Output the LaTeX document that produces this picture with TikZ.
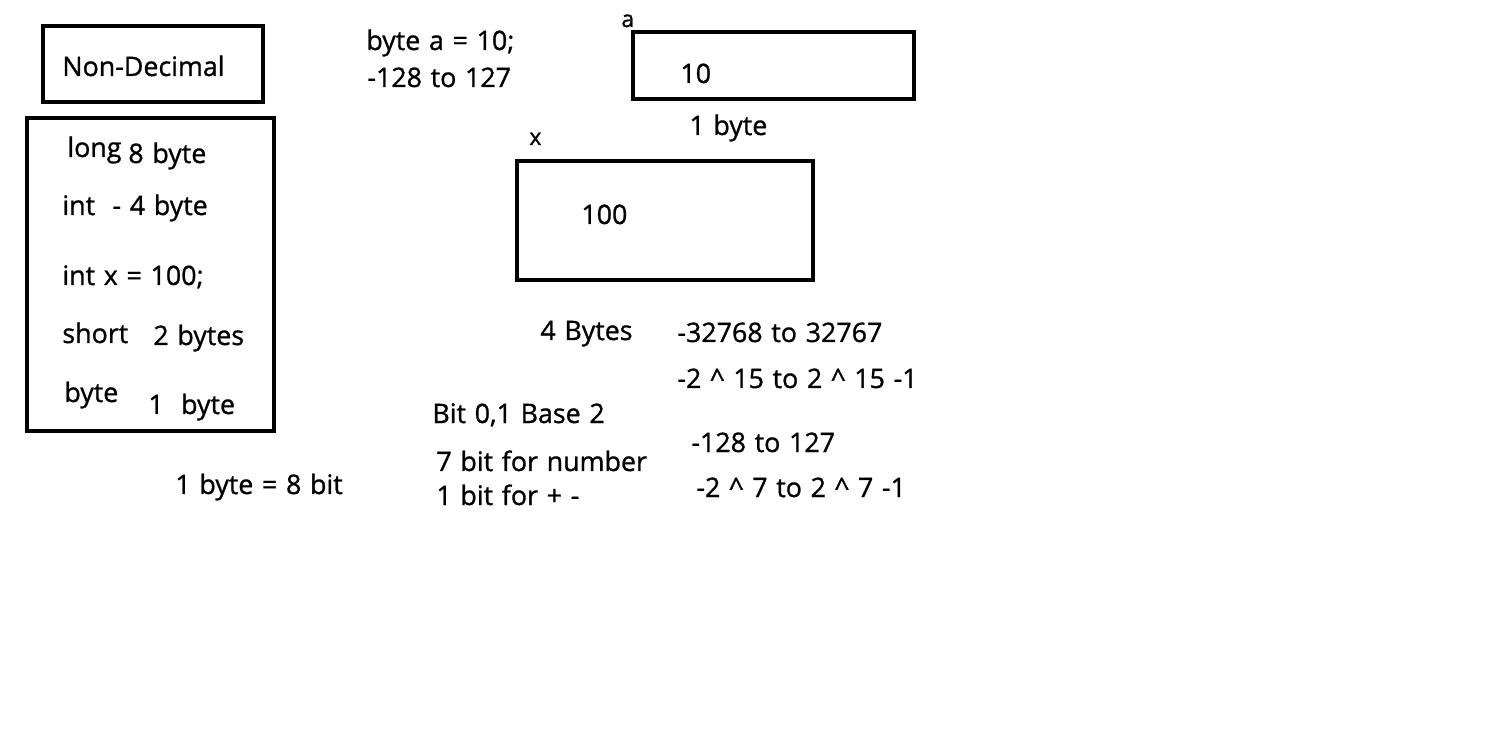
\documentclass[tikz,border=0pt]{standalone}
\usepackage{fontspec}
\setmainfont{Open Sans}
\newfontfamily\cfont{Open Sans}[UprightFeatures={FakeBold=1},WordSpace=1.25]
\begin{document}
\begin{tikzpicture}[x=0.5pt,y=-0.5pt,
  box/.style={draw=black,line width=2pt},
  lbl/.style={anchor=base west,inner sep=0pt,font=\cfont\fontsize{13.4}{16}\selectfont},
  small/.style={anchor=base west,inner sep=0pt,font=\cfont\fontsize{11.5}{13}\selectfont}]
\useasboundingbox[fill=white] (0,0) rectangle (1508,742);
% boxes
\draw[box] (43,26) rectangle (263,102) coordinate (nd);
\draw[box] (27,118) rectangle (274,431) coordinate (big);
\draw[box] (633,32) rectangle (914,99) coordinate (abox);
\draw[box] (517,161) rectangle (813,280) coordinate (xbox);
% texts
\node[lbl] (t1) at (62,76) {Non-Decimal};
\node[lbl] (t2) at (67,157) {long};
\node[lbl] (t3) at (128,163) {8 byte};
\node[lbl] (t4) at (62,215) {int\ \ - 4 byte};
\node[lbl] (t5) at (62,285) {int x = 100;};
\node[lbl] (t6) at (62,343) {short};
\node[lbl] (t7) at (153,345) {2 bytes};
\node[lbl] (t8) at (64,402) {byte};
\node[lbl] (t9) at (148,414) {1\ \ byte};
\node[lbl] (t10) at (175,494) {1 byte = 8 bit};
\node[lbl] (t11) at (366,50) {byte a = 10;};
\node[lbl] (t12) at (367,87) {-128 to 127};
\node[small] (t13) at (621,27) {a};
\node[lbl] (t14) at (680,83) {10};
\node[lbl] (t15) at (689,135) {1 byte};
\node[small] (t16) at (529,145) {x};
\node[lbl] (t17) at (581,224) {100};
\node[lbl] (t18) at (540,340) {4 Bytes};
\node[lbl] (t19) at (677,342) {-32768 to 32767};
\node[lbl] (t20) at (677,388) {-2 \textasciicircum{} 15 to 2 \textasciicircum{} 15 -1};
\node[lbl] (t21) at (432,423) {Bit 0,1 Base 2};
\node[lbl] (t22) at (436,471) {7 bit for number};
\node[lbl] (t23) at (436,505) {1 bit for + -};
\node[lbl] (t24) at (691,452) {-128 to 127};
\node[lbl] (t25) at (696,497) {-2 \textasciicircum{} 7 to 2 \textasciicircum{} 7 -1};
\end{tikzpicture}
\end{document}
